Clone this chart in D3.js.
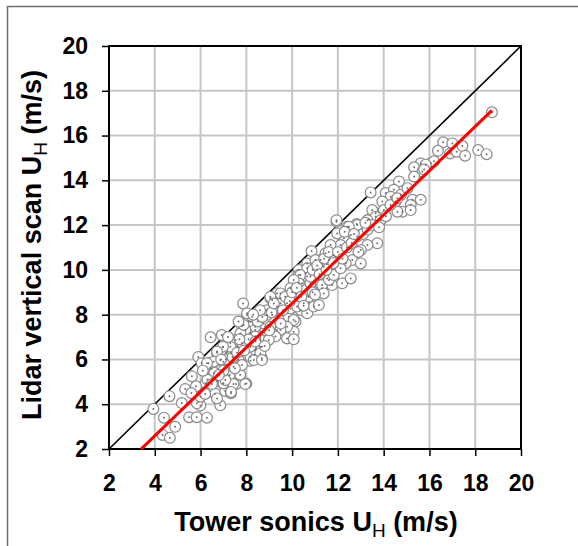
<!DOCTYPE html>
<html><head><meta charset="utf-8">
<script src="https://cdn.jsdelivr.net/npm/d3@7"></script>
<style>body{margin:0;background:#fff}svg{display:block}</style>
</head><body><svg id="c" width="578" height="546"></svg>
<script>
const xTicks = [2,4,6,8,10,12,14,16,18,20];
const yTicks = [2,4,6,8,10,12,14,16,18,20];
const fitLine = {slope: 0.987, intercept: -1.36, xStart: 3.4, xEnd: 18.73};
const xValues = [
3.94,4.64,4.40,4.89,4.34,4.66,5.18,5.50,5.83,6.28,5.91,5.99,5.33,5.62,5.90,5.84,5.99,
6.22,6.42,6.64,6.73,6.98,7.08,7.33,7.55,7.73,8.00,7.27,6.72,6.98,7.15,7.62,7.33,7.66,8.18,8.35,8.03,6.35,6.05,6.86,6.20,7.00,7.44,7.95,7.33,6.72,7.86,6.44,6.49,6.86,7.30,7.08,7.44,7.81,8.18,8.39,8.61,8.68,8.18,8.39,8.18,7.81,8.03,8.61,8.83,8.98,9.13,9.34,9.13,9.49,9.78,10.15,9.85,10.15,10.07,9.78,10.07,9.34,10.36,10.66,10.51,10.95,11.17,10.73,10.44,10.58,10.29,10.66,11.24,11.38,11.53,11.31,11.82,11.75,
9.05,9.34,9.49,9.93,10.22,10.66,10.29,10.58,10.07,9.78,9.49,9.20,8.91,8.76,8.39,8.10,7.96,8.39,8.68,8.61,8.18,7.81,7.52,7.30,6.98,6.72,7.00,6.57,6.28,6.93,7.74,7.88,7.66,8.25,8.03,9.05,9.27,8.98,8.32,8.68,
11.94,13.43,10.85,12.82,12.41,13.36,13.65,13.72,13.29,13.00,12.85,12.56,12.26,11.97,12.12,11.68,11.46,11.61,11.31,11.02,11.10,10.66,10.36,10.29,10.07,9.93,10.58,10.80,11.31,11.61,11.82,12.19,12.56,12.63,13.00,12.34,12.12,11.90,11.38,9.49,9.05,
16.60,17.00,16.37,16.90,17.19,17.44,17.56,18.13,18.50,18.73,16.06,15.62,15.33,15.69,15.33,14.67,14.09,14.45,14.75,15.04,14.31,13.94,14.52,15.26,15.62,15.18,14.82,15.18,14.60,14.01,13.50,13.65,13.29,12.85,12.48,11.94,13.87,16.20,15.84,15.77,
7.1,7.4,7.6,7.9,8.1,8.4,8.5,8.7,8.9,9.1,9.2,9.6,9.7,9.9,10.0,10.2,10.4,10.8,10.9,11.1,11.2,11.4,11.6,11.8,12.0,12.2,12.4,12.6,12.9,13.1,13.3,13.5,13.8,14.1,14.3,14.6,9.5,9.0,8.8,8.6,8.3,7.7,7.2,6.9,6.6,6.3,6.1,5.8,5.6,6.5,7.0,7.5,6.8,10.5,10.9,11.0,11.5,12.3,12.7,13.2
];
const yValues = [
3.79,4.36,3.40,2.99,2.63,2.50,4.05,3.42,3.42,3.40,4.11,3.94,4.68,5.25,6.11,4.04,4.34,
4.93,5.56,4.47,5.05,4.93,4.59,4.49,4.90,5.32,4.92,5.30,6.30,6.55,6.30,6.57,6.27,5.97,5.94,6.20,6.65,5.83,5.83,3.95,4.46,4.93,4.90,4.90,4.55,4.26,8.50,6.99,5.60,5.97,6.72,5.08,5.67,5.75,6.12,6.42,6.57,6.05,7.17,7.31,7.69,7.49,7.98,6.87,7.31,7.54,7.98,8.36,8.65,8.73,8.51,8.95,7.91,7.69,7.24,6.94,6.90,7.32,8.21,8.06,8.51,8.36,8.43,8.80,9.40,9.85,9.99,10.29,10.44,10.14,9.62,9.18,10.66,9.32,
8.73,8.95,8.51,8.28,8.36,9.70,9.77,9.03,7.76,7.46,7.32,7.76,7.98,7.61,7.46,7.69,7.32,7.02,6.57,6.27,6.57,6.72,6.87,6.57,6.57,6.35,5.90,5.90,5.83,7.09,7.16,7.54,7.69,7.91,8.06,7.46,7.02,6.87,5.97,5.97,
12.15,13.46,10.84,12.05,11.93,12.26,12.53,11.19,11.11,10.89,11.49,11.56,11.41,11.63,11.11,11.11,10.74,10.44,10.29,10.44,9.99,10.07,9.77,9.40,9.55,9.18,9.10,9.40,9.32,9.55,9.77,9.40,9.62,10.44,10.29,10.29,10.07,10.59,8.95,8.95,8.80,
15.70,15.65,15.32,15.20,15.28,15.53,15.10,15.35,15.17,17.04,14.76,14.76,14.58,14.39,14.17,13.95,13.43,13.58,13.35,13.65,13.27,13.05,13.05,13.13,13.13,12.90,12.60,12.67,12.60,12.67,12.67,12.37,12.22,12.00,11.93,12.22,12.22,14.85,14.70,14.48,
6.0,6.1,6.3,6.4,6.9,6.8,7.7,7.9,8.2,8.1,8.5,8.2,8.8,8.6,9.0,9.2,8.8,9.7,10.0,10.2,9.8,10.5,10.8,10.3,10.8,10.5,11.0,11.2,10.8,11.6,11.8,12.0,11.9,12.4,12.9,13.2,7.6,7.3,6.6,8.2,8.0,6.9,7.0,6.0,5.4,5.1,5.5,4.8,4.5,4.9,5.5,5.6,5.3,8.4,9.0,8.9,10.0,11.7,11.6,12.1
];

const svg = d3.select("#c");
const x = d3.scaleLinear().domain([2,20]).range([109,521]);
const y = d3.scaleLinear().domain([2,20]).range([449,46]);
const font = "'Liberation Sans', Arial, sans-serif";

// outer frame
svg.append("rect").attr("x",7.5).attr("y",6.5).attr("width",600).attr("height",600)
  .attr("fill","none").attr("stroke","#6e6e6e").attr("stroke-width",1.5);

// gridlines
const g = svg.append("g");
g.selectAll(".gx").data(xTicks.slice(1,-1)).enter().append("line")
  .attr("x1",d=>x(d)).attr("x2",d=>x(d)).attr("y1",y(2)).attr("y2",y(20))
  .attr("stroke","#c6c6c6").attr("stroke-width",2);
g.selectAll(".gy").data(yTicks.slice(1,-1)).enter().append("line")
  .attr("y1",d=>y(d)).attr("y2",d=>y(d)).attr("x1",x(2)).attr("x2",x(20))
  .attr("stroke","#c6c6c6").attr("stroke-width",2);

// axes
const xa = svg.append("g").attr("transform",`translate(0,${y(2)})`)
  .call(d3.axisBottom(x).tickValues(xTicks).tickSize(7).tickPadding(19).tickFormat(d3.format("d")));
const ya = svg.append("g").attr("transform",`translate(${x(2)},0)`)
  .call(d3.axisLeft(y).tickValues(yTicks).tickSize(7).tickPadding(14).tickFormat(d3.format("d")));
[xa,ya].forEach(a=>{
  a.select(".domain").remove();
  a.selectAll(".tick line").attr("stroke","#000").attr("stroke-width",1.5);
  a.selectAll("text").attr("font-family",font).attr("font-weight","bold").attr("font-size",23).attr("fill","#000");
});
// plot box
svg.append("rect").attr("x",x(2)).attr("y",y(20)).attr("width",x(20)-x(2)).attr("height",y(2)-y(20))
  .attr("fill","none").attr("stroke","#000").attr("stroke-width",2);

svg.append("clipPath").attr("id","cp").append("rect")
  .attr("x",x(2)).attr("y",y(20)).attr("width",x(20)-x(2)).attr("height",y(2)-y(20));

// 1:1 line
svg.append("line").attr("x1",x(2)).attr("y1",y(2)).attr("x2",x(20)).attr("y2",y(20))
  .attr("stroke","#000").attr("stroke-width",1.6);

// points
const pts = xValues.map((v,i)=>[v,yValues[i]]);
const pg = svg.append("g").attr("clip-path","url(#cp)");
pg.selectAll("circle.p").data(pts).enter().append("circle")
  .attr("cx",d=>x(d[0])).attr("cy",d=>y(d[1])).attr("r",5.4)
  .attr("fill","#fff").attr("stroke","#8a8a8a").attr("stroke-width",1.2);
pg.selectAll("circle.d").data(pts).enter().append("circle")
  .attr("cx",d=>x(d[0])).attr("cy",d=>y(d[1])).attr("r",1)
  .attr("fill","#707070");

// fit line
svg.append("line")
  .attr("x1",x(fitLine.xStart)).attr("y1",y(fitLine.slope*fitLine.xStart+fitLine.intercept))
  .attr("x2",x(fitLine.xEnd)).attr("y2",y(fitLine.slope*fitLine.xEnd+fitLine.intercept))
  .attr("stroke","#ff0000").attr("stroke-width",3);

// titles
const xt = svg.append("text").attr("x",316).attr("y",531).attr("text-anchor","middle")
  .attr("font-family",font).attr("font-weight","bold").attr("font-size",27);
xt.append("tspan").text("Tower sonics U");
xt.append("tspan").attr("font-size",19).attr("font-weight","normal").attr("dy",6).text("H");
xt.append("tspan").attr("dy",-6).text(" (m/s)");

const yt = svg.append("text").attr("transform","translate(41,245) rotate(-90)").attr("text-anchor","middle")
  .attr("font-family",font).attr("font-weight","bold").attr("font-size",27);
yt.append("tspan").text("Lidar vertical scan U");
yt.append("tspan").attr("font-size",19).attr("font-weight","normal").attr("dy",6).text("H");
yt.append("tspan").attr("dy",-6).text(" (m/s)");
</script></body></html>
